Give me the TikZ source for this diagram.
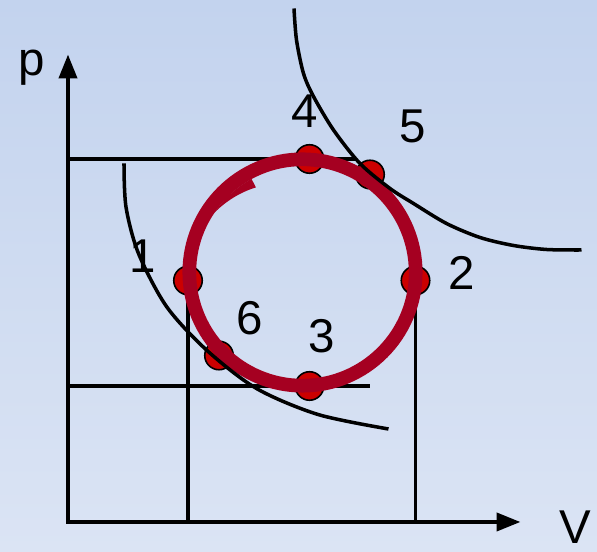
\documentclass[tikz,border=0pt]{standalone}
\usepackage{fontspec}
\setmainfont{Liberation Sans}
\usepackage{xcolor}
\definecolor{bgtop}{RGB}{195, 211, 238}
\definecolor{bgbottom}{RGB}{219, 228, 244}
\definecolor{cyclered}{RGB}{165, 0, 33}
\definecolor{dotred}{RGB}{204, 0, 0}
\usepackage{tikz}
\usetikzlibrary{arrows.meta, calc}

\begin{document}
\begin{tikzpicture}[>={Triangle[length=0.48cm, width=0.36cm]},
    guide/.style={line width=2pt, black},
    axis/.style={line width=2.3pt, black},
    isotherm/.style={line width=2pt, black},
    statept/.style={circle, draw=black, line width=0.9pt, fill=dotred, minimum size=0.57cm, inner sep=0pt},
    lbl/.style={inner sep=0pt, font=\fontsize{27}{32}\selectfont}]
    \useasboundingbox (-1.36,-0.6) rectangle (10.58,10.44);
    \shade[top color=bgtop, bottom color=bgbottom] (-1.36,-0.6) rectangle (10.58,10.44);

    \coordinate (O) at (0,0);
    \coordinate (C) at (4.69,4.99);
    \coordinate (P1) at (2.40,4.83);
    \coordinate (P2) at (6.95,4.83);
    \coordinate (P3) at (4.83,2.72);
    \coordinate (P4) at (4.83,7.26);
    \coordinate (P5) at (6.04,6.95);
    \coordinate (P6) at (3.02,3.33);

    % guide lines to the axes
    \draw[guide] (O |- P4) -- ++(5.74,0);
    \draw[guide] (O |- P3) -- ++(6.04,0);
    \draw[guide] (P1) -- (P1 |- O);
    \draw[guide] (P2) -- (P2 |- O);
    \draw[axis, <->, line join=miter] (0,9.35) -- (O) -- (9.05,0);

    % state points
    \foreach \i in {1,...,6}
        \node[statept] (s\i) at (P\i) {};

    % the cycle
    \draw[cyclered, line width=7.8pt] (C) circle (2.264);
    \fill[cyclered] plot[domain=118.7:146, samples=20] ({4.69+(1.94+0.19*(\x-118.7)/27.3)*cos(\x)}, {4.99+(1.94+0.19*(\x-118.7)/27.3)*sin(\x)})
        arc[start angle=146, end angle=118.7, radius=2.14] -- cycle;

    % isotherms
    \draw[isotherm] plot[smooth] coordinates {(4.52,10.27) (4.57,9.64) (4.71,8.97) (4.91,8.51) (5.31,7.84) (5.84,7.17) (6.44,6.67) (6.91,6.37) (7.57,5.97) (8.24,5.69) (8.91,5.53) (9.57,5.45) (10.27,5.44)};
    \draw[isotherm] plot[smooth] coordinates {(1.12,7.17) (1.16,6.3) (1.41,5.37) (1.97,4.31) (2.77,3.44) (3.77,2.67) (5.0,2.15) (6.41,1.86)};

    % labels
    \node[lbl] (lp) at (-0.72,9.09) {p};
    \node[lbl] (lV) at (10.15,-0.1) {V};
    \node[lbl] (l1) at (1.50,5.31) {1};
    \node[lbl] (l2) at (7.88,4.98) {2};
    \node[lbl] (l3) at (5.08,3.71) {3};
    \node[lbl] (l4) at (4.74,8.22) {4};
    \node[lbl] (l5) at (6.89,7.92) {5};
    \node[lbl] (l6) at (3.64,4.07) {6};
\end{tikzpicture}
\end{document}
